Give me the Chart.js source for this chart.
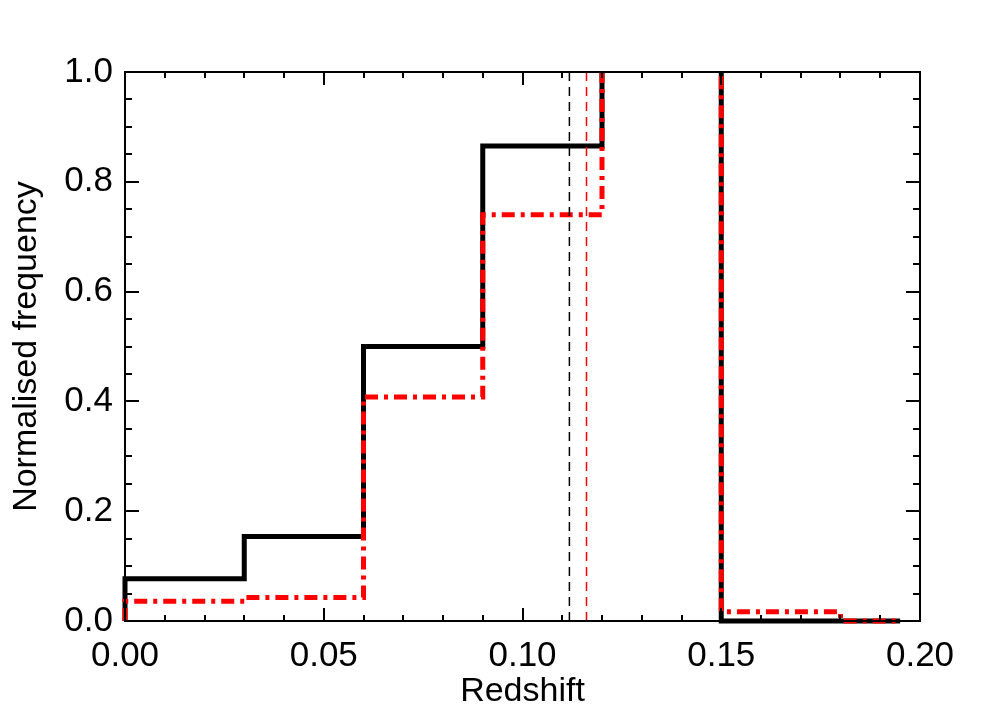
<!DOCTYPE html>
<html>
<head>
<meta charset="utf-8">
<title>Redshift histogram</title>
<script src="https://cdn.jsdelivr.net/npm/chart.js@4.4.1/dist/chart.umd.min.js"></script>
<style>
  html, body { margin: 0; padding: 0; background: #fff; }
  #wrap { width: 996px; height: 712px; position: relative; }
</style>
</head>
<body>
<div id="wrap"><canvas id="histChart"></canvas></div>
<script>
'use strict';

// bin edges and normalised frequencies
const binEdges = [0, 0.03, 0.06, 0.09, 0.12, 0.15, 0.18, 0.195];
const blackFreq = [0.077, 0.154, 0.5, 0.865, 1.3, 0, 0];
const redFreq = [0.036, 0.043, 0.408, 0.74, 1.3, 0.017, 0];

// mean redshift markers
const blackMean = 0.1118;
const redMean = 0.1161;

const xRange = [0, 0.2];
const yRange = [0, 1.0];
const xMajorStep = 0.05;
const yMajorStep = 0.2;

const FONT = '"Liberation Sans", Arial, Helvetica, sans-serif';

function stepPoints(edges, values) {
  const pts = [{ x: edges[0], y: 0 }];
  values.forEach(function (v, i) {
    pts.push({ x: edges[i], y: v });
  });
  pts.push({ x: edges[edges.length - 1], y: values[values.length - 1] });
  return pts;
}

function meanLine(x) {
  return [{ x: x, y: yRange[0] }, { x: x, y: yRange[1] }];
}

// IDL-style frame with inward major/minor ticks on all four sides
const framePlugin = {
  id: 'frame',
  afterDatasetsDraw: function (chart) {
    const ctx = chart.ctx;
    const a = chart.chartArea;
    const xs = chart.scales.x;
    const ys = chart.scales.y;
    ctx.save();
    ctx.strokeStyle = '#000';
    ctx.lineWidth = 2;
    ctx.strokeRect(a.left, a.top, a.right - a.left, a.bottom - a.top);

    ctx.beginPath();
    for (let i = 0; i <= 20; i++) {
      const px = Math.round(xs.getPixelForValue(i / 100));
      const len = i % 5 === 0 ? 13 : 6;
      ctx.moveTo(px, a.bottom); ctx.lineTo(px, a.bottom - len);
      ctx.moveTo(px, a.top); ctx.lineTo(px, a.top + len);
    }
    for (let j = 0; j <= 20; j++) {
      const py = Math.round(ys.getPixelForValue(j * 0.05));
      const len = j % 4 === 0 ? 14 : 7;
      ctx.moveTo(a.left, py); ctx.lineTo(a.left + len, py);
      ctx.moveTo(a.right, py); ctx.lineTo(a.right - len, py);
    }
    ctx.stroke();
    ctx.restore();
  }
};

const histClip = { left: 6, right: 6, top: 0, bottom: 6 };

new Chart(document.getElementById('histChart'), {
  type: 'line',
  data: {
    datasets: [
      {
        label: 'mean (black)',
        data: meanLine(blackMean),
        borderColor: '#000',
        borderWidth: 1.5,
        borderDash: [9, 6],
        pointRadius: 0,
        fill: false,
        order: -1
      },
      {
        label: 'mean (red)',
        data: meanLine(redMean),
        borderColor: '#ff0000',
        borderWidth: 1.5,
        borderDash: [9, 6],
        pointRadius: 0,
        fill: false,
        order: -1
      },
      {
        label: 'red',
        data: stepPoints(binEdges, redFreq),
        stepped: 'before',
        borderColor: '#ff0000',
        borderWidth: 5,
        borderDash: [13, 6, 4, 6],
        borderCapStyle: 'butt',
        pointRadius: 0,
        fill: false,
        clip: histClip,
        order: 0
      },
      {
        label: 'black',
        data: stepPoints(binEdges, blackFreq),
        stepped: 'before',
        borderColor: '#000',
        borderWidth: 5,
        pointRadius: 0,
        fill: false,
        clip: histClip,
        order: 1
      }
    ]
  },
  options: {
    responsive: true,
    maintainAspectRatio: false,
    animation: false,
    layout: { padding: { top: 72, right: 76, left: 0, bottom: 0 } },
    plugins: {
      legend: { display: false },
      tooltip: { enabled: false }
    },
    scales: {
      x: {
        type: 'linear',
        min: xRange[0],
        max: xRange[1],
        grid: { display: false, drawTicks: false },
        border: { display: false },
        ticks: {
          stepSize: xMajorStep,
          color: '#000',
          padding: 14,
          maxRotation: 0,
          font: { family: FONT, size: 35 },
          callback: function (v) { return Number(v).toFixed(2); }
        },
        title: {
          display: true,
          text: 'Redshift',
          color: '#000',
          font: { family: FONT, size: 34 },
          padding: { top: 0, bottom: 0 }
        },
        afterFit: function (scale) { scale.height = 91; }
      },
      y: {
        type: 'linear',
        min: yRange[0],
        max: yRange[1],
        grid: { display: false, drawTicks: false },
        border: { display: false },
        ticks: {
          stepSize: yMajorStep,
          color: '#000',
          padding: 12,
          font: { family: FONT, size: 35 },
          callback: function (v) { return Number(v).toFixed(1); }
        },
        title: {
          display: true,
          text: 'Normalised frequency',
          color: '#000',
          font: { family: FONT, size: 34 },
          padding: { top: 6, bottom: 0 }
        },
        afterFit: function (scale) { scale.width = 125; }
      }
    }
  },
  plugins: [framePlugin]
});
</script>
</body>
</html>
